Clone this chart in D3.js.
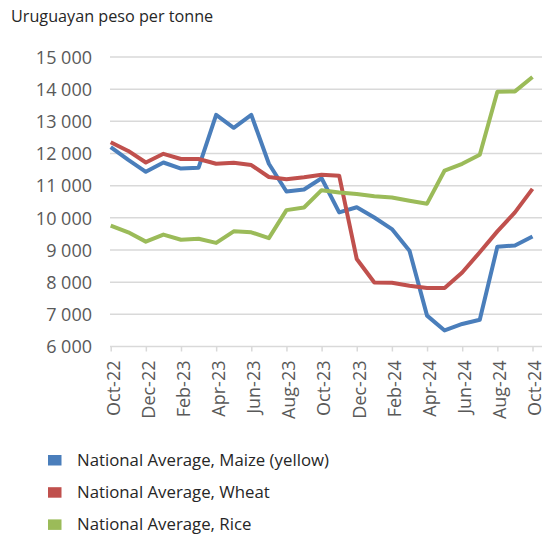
<!DOCTYPE html>
<html><head><meta charset="utf-8">
<script src="https://cdn.jsdelivr.net/npm/d3@7"></script>
<style>body{margin:0;background:#fff}svg{display:block}</style>
</head><body>
<svg id="c" width="549" height="535"></svg>
<script>
const months = ["Oct-22","Nov-22","Dec-22","Jan-23","Feb-23","Mar-23","Apr-23","May-23","Jun-23","Jul-23","Aug-23","Sep-23","Oct-23","Nov-23","Dec-23","Jan-24","Feb-24","Mar-24","Apr-24","May-24","Jun-24","Jul-24","Aug-24","Sep-24","Oct-24"];
const maize = [12200,11800,11430,11720,11530,11560,13200,12800,13200,11680,10820,10880,11230,10170,10330,10010,9650,8980,6960,6500,6700,6830,9100,9140,9420];
const wheat = [12350,12080,11720,11990,11830,11830,11680,11710,11640,11270,11200,11260,11340,11310,8720,7990,7980,7890,7820,7820,8300,8930,9580,10170,10900];
const rice = [9760,9550,9260,9480,9320,9350,9220,9580,9550,9370,10240,10320,10860,10790,10740,10670,10630,10530,10440,11470,11680,11960,13920,13930,14380];
const yTicks = [6000,7000,8000,9000,10000,11000,12000,13000,14000,15000];
const seriesNames = ["National Average, Maize (yellow)","National Average, Wheat","National Average, Rice"];
const colors = ["#4a7ebb","#c0504d","#9bbb59"];
const title = "Uruguayan peso per tonne";

const svg = d3.select("#c");
const font = "'Open Sans', sans-serif";
const x = d3.scalePoint().domain(months).range([110.7, 532.5]);
const y = d3.scaleLinear().domain([6000,15000]).range([346.5, 57]);

svg.append("text").attr("x",11).attr("y",22).attr("font-family",font).attr("font-size",16.2).attr("fill","#262626").text(title);

// gridlines
svg.append("g").selectAll("line").data(yTicks.slice(1)).join("line")
  .attr("x1",110).attr("x2",542).attr("y1",d=>y(d)).attr("y2",d=>y(d))
  .attr("stroke","#d9d9d9").attr("stroke-width",1.5);

// y axis labels
const fmt = d => d3.format(",")(d).replace(/,/g," ");
const yAxis = d3.axisLeft(y).tickValues(yTicks).tickFormat(fmt).tickSize(0).tickPadding(0);
const gy = svg.append("g").attr("transform","translate(92,0)").call(yAxis);
gy.select(".domain").remove();
gy.selectAll("text").attr("font-family",font).attr("font-size",18).attr("fill","#595959").attr("dy","0.35em");

// x axis
const labelMonths = months.filter((d,i)=>i%2===0);
const xAxis = d3.axisBottom(x).tickValues(labelMonths).tickSize(5).tickPadding(4);
const gx = svg.append("g").attr("transform",`translate(0,${y(6000)})`).call(xAxis);
gx.select(".domain").attr("stroke","#d9d9d9").attr("stroke-width",1.5).attr("d",`M110,0H542`);
gx.selectAll(".tick line").attr("stroke","#d9d9d9").attr("stroke-width",1.5);
gx.selectAll("text").attr("font-family",font).attr("font-size",18).attr("fill","#595959")
  .attr("transform","rotate(-90)").attr("text-anchor","end").attr("x",-14).attr("y",2).attr("dy","0.35em");

// lines
const line = d3.line().x((d,i)=>x(months[i])).y(d=>y(d));
[maize,wheat,rice].forEach((s,k)=>{
  svg.append("path").datum(s).attr("d",line).attr("fill","none")
    .attr("stroke",colors[k]).attr("stroke-width",4).attr("stroke-linejoin","round");
});

// legend
const lg = svg.append("g");
seriesNames.forEach((n,k)=>{
  const cy = 460 + k*32.2;
  lg.append("rect").attr("x",48).attr("y",cy-5).attr("width",13.5).attr("height",10.5).attr("fill",colors[k]);
  lg.append("text").attr("x",77).attr("y",cy).attr("dy","0.35em").attr("font-family",font)
    .attr("font-size",16.8).attr("fill","#262626").text(n);
});
</script>
</body></html>
